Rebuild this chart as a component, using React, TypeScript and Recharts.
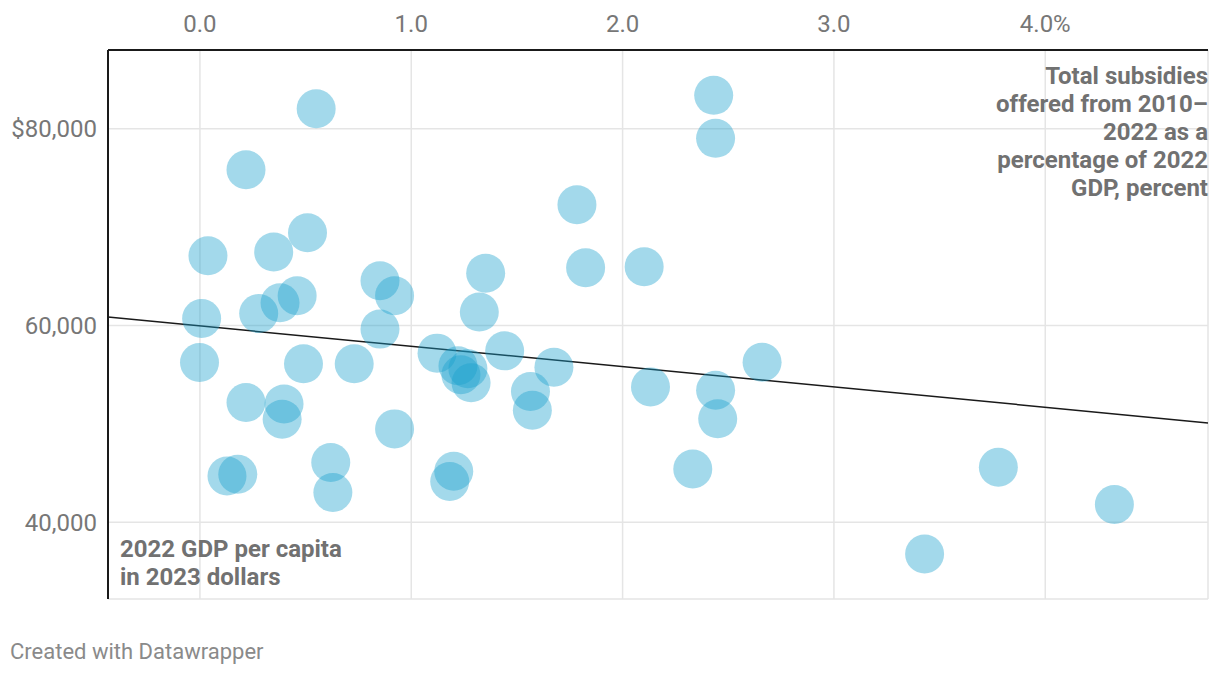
import { ScatterChart, Scatter, XAxis, YAxis, CartesianGrid, ReferenceLine } from "recharts";

// subsidies 2010–2022 as % of 2022 GDP
const subsidyPct = [
  0.55, 0.218, 1.784, 0.509, 0.038, 0.349, 1.825, 1.352, 0.852, 0.921,
  0.46, 0.379, 0.278, 0.008, 1.322, 0.852, -0.002, 0.49, 0.73, 1.122,
  1.221, 1.268, 1.235, 1.283, 1.442, 1.675, 1.564, 1.573, 0.218, 0.398,
  0.389, 0.921, 0.619, 0.629, 0.128, 0.179, 1.201, 1.182, 2.431, 2.44,
  2.102, 2.132, 2.44, 2.45, 2.66, 2.332, 3.429, 3.778, 4.327,
];

// 2022 GDP per capita, 2023 dollars
const gdpPerCapita = [
  82030, 75830, 72270, 69420, 67080, 67460, 65860, 65320, 64540, 63020,
  63020, 62300, 61220, 60710, 61360, 59630, 56240, 56100, 56100, 57190,
  55900, 55600, 54990, 54170, 57420, 55760, 53290, 51390, 52170, 52030,
  50480, 49490, 46070, 43020, 44710, 44880, 45190, 44140, 83390, 79020,
  65970, 53760, 53420, 50510, 56270, 45420, 36780, 45590, 41800,
];

const xTicks = [0, 1, 2, 3, 4];
const yTicks = [40000, 60000, 80000];
const xDomain = [-0.435, 4.77];
const yDomain = [32200, 88000];

// fitted trend line, ends at the plot edges
const trendX = [-0.435, 4.77];
const trendY = [60850, 50100];

const data = subsidyPct.map((x, i) => ({ x, y: gdpPerCapita[i] }));

const fmtX = (v: number) => (v === 4 ? "4.0%" : v.toFixed(1));
const fmtY = (v: number) => (v === 80000 ? "$80,000" : v.toLocaleString("en-US"));

const Bubble = (props: any) => (
  <circle cx={props.cx} cy={props.cy} r={19.5} fill="#18a1cd" fillOpacity={0.4} />
);

const labelStyle: React.CSSProperties = {
  position: "absolute",
  fontSize: 24,
  fontWeight: 700,
  color: "#717171",
  lineHeight: "28px",
};

export default function App() {
  return (
    <div style={{ position: "absolute", left: 0, top: 0, width: 1220, height: 676, background: "#fff", fontFamily: "Roboto, sans-serif" }}>
      <ScatterChart width={1220} height={676} margin={{ top: 0, right: 12, bottom: 77, left: 8 }}>
        <CartesianGrid stroke="#e5e5e5" strokeWidth={1.5} />
        <XAxis
          type="number"
          dataKey="x"
          orientation="top"
          domain={xDomain}
          ticks={xTicks}
          tickFormatter={fmtX}
          allowDataOverflow
          height={50}
          tickLine={false}
          tickSize={0}
          tickMargin={18}
          axisLine={{ stroke: "#1a1a1a", strokeWidth: 2 }}
          tick={{ fill: "#777", fontSize: 24, fontFamily: "Roboto" }}
        />
        <YAxis
          type="number"
          dataKey="y"
          domain={yDomain}
          ticks={yTicks}
          tickFormatter={fmtY}
          allowDataOverflow
          width={100}
          tickLine={false}
          tickSize={0}
          tickMargin={11}
          axisLine={{ stroke: "#1a1a1a", strokeWidth: 2 }}
          tick={{ fill: "#777", fontSize: 24, fontFamily: "Roboto" }}
        />
        <Scatter data={data} shape={Bubble} isAnimationActive={false} />
        <ReferenceLine
          segment={[
            { x: trendX[0], y: trendY[0] },
            { x: trendX[1], y: trendY[1] },
          ]}
          stroke="#1a1a1a"
          strokeWidth={1.5}
        />
      </ScatterChart>
      <div style={{ ...labelStyle, right: 12, top: 62, textAlign: "right" }}>
        Total subsidies
        <br />
        offered from 2010–
        <br />
        2022 as a
        <br />
        percentage of 2022
        <br />
        GDP, percent
      </div>
      <div style={{ ...labelStyle, left: 120, top: 535 }}>
        2022 GDP per capita
        <br />
        in 2023 dollars
      </div>
      <div style={{ position: "absolute", left: 10, top: 640, fontSize: 22, color: "#8a8a8a", lineHeight: "24px" }}>
        Created with Datawrapper
      </div>
    </div>
  );
}
